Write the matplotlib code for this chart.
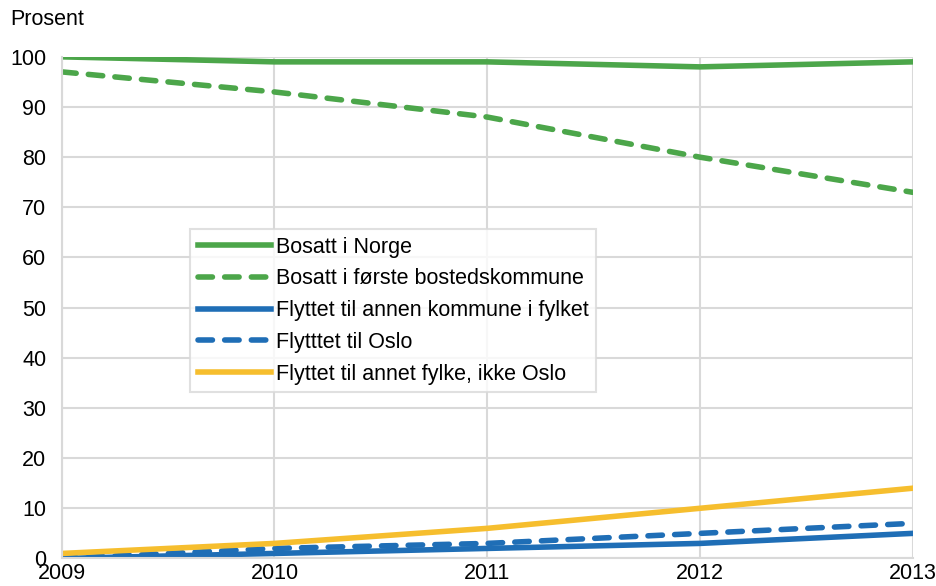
import matplotlib
matplotlib.use("Agg")
import matplotlib.pyplot as plt

# Data
years = [2009, 2010, 2011, 2012, 2013]
bosatt_norge = [100, 99, 99, 98, 99]
bosatt_forste = [97, 93, 88, 80, 73]
annen_kommune = [0, 1, 2, 3, 5]
til_oslo = [0, 2, 3, 5, 7]
annet_fylke = [1, 3, 6, 10, 14]

green = '#4ca64a'
blue = '#1f6eb6'
yellow = '#f6be2e'

plt.rcParams['font.family'] = ['Liberation Sans', 'DejaVu Sans']

fig = plt.figure(figsize=(9.36, 5.86), dpi=100)
ax = fig.add_axes([0.066, 0.047, 0.909, 0.856])

lw = 4.0
dash = (0, (2.6, 2.2))
ax.plot(years, bosatt_norge, color=green, lw=lw, label='Bosatt i Norge')
ax.plot(years, bosatt_forste, color=green, lw=lw, ls=dash, dash_capstyle='round',
        label='Bosatt i første bostedskommune')
ax.plot(years, annen_kommune, color=blue, lw=lw, label='Flyttet til annen kommune i fylket')
ax.plot(years, til_oslo, color=blue, lw=lw, ls=dash, dash_capstyle='round',
        label='Flytttet til Oslo')
ax.plot(years, annet_fylke, color=yellow, lw=lw, label='Flyttet til annet fylke, ikke Oslo')

ax.set_xlim(2009, 2013)
ax.set_ylim(0, 100)
ax.set_xticks(years)
ax.set_yticks(range(0, 101, 10))
ax.tick_params(length=0, labelsize=15.5)
ax.tick_params(axis='x', pad=3)
ax.tick_params(axis='y', pad=11)
ax.grid(True, color='#d9d9d9', lw=1.5)
ax.set_axisbelow(True)
for s in ['top', 'right']:
    ax.spines[s].set_visible(False)
for s in ['left', 'bottom']:
    ax.spines[s].set_color('#d9d9d9')
    ax.spines[s].set_linewidth(1.5)

fig.text(0.011, 0.966, 'Prosent', fontsize=15.5, va='center')

leg = ax.legend(loc='upper left', bbox_to_anchor=(190 / 936, 1 - 229 / 586),
                bbox_transform=fig.transFigure, fontsize=15.5, frameon=True,
                fancybox=False, edgecolor='#d9d9d9', handlelength=3.4,
                handletextpad=0.25, labelspacing=0.5, borderpad=0.35,
                borderaxespad=0)
leg.get_frame().set_linewidth(1.5)

fig.savefig('out.png', dpi=100)
